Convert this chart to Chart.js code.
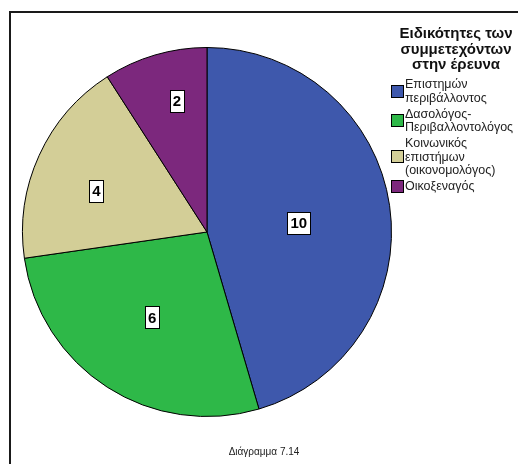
<!DOCTYPE html>
<html>
<head>
<meta charset="utf-8">
<script src="https://cdn.jsdelivr.net/npm/chart.js@4/dist/chart.umd.min.js"></script>
<style>
  html, body { margin: 0; padding: 0; background: #fff; }
  #wrap { width: 518px; height: 464px; position: relative; }
</style>
</head>
<body>
<div id="wrap"><canvas id="pieChart" width="518" height="464"></canvas></div>
<script>
// Ειδικότητες των συμμετεχόντων στην έρευνα
const categories = [
    ['Επιστημών', 'περιβάλλοντος'],
    ['Δασολόγος-', 'Περιβαλλοντολόγος'],
    ['Κοινωνικός', 'επιστήμων', '(οικονομολόγος)'],
    ['Οικοξεναγός']
];
const counts = [10, 6, 4, 2];
const sliceColors = ['#3e58ac', '#2eb848', '#d3ce97', '#7c287d'];
const legendTitle = ['Ειδικότητες των', 'συμμετεχόντων', 'στην έρευνα'];
const footerText = 'Διάγραμμα 7.14';

const FONT = "'Liberation Sans', Arial, sans-serif";

// frame lines (top and left edge of the chart box)
const framePlugin = {
    id: 'frame',
    beforeDraw(chart) {
        const c = chart.ctx;
        c.save();
        c.fillStyle = '#fff';
        c.fillRect(0, 0, chart.width, chart.height);
        c.strokeStyle = '#1a1a1a';
        c.lineWidth = 2;
        c.beginPath();
        c.moveTo(10, chart.height);
        c.lineTo(10, 12);
        c.lineTo(chart.width, 12);
        c.stroke();
        c.restore();
    }
};

// boxed count labels inside each slice
const sliceLabels = {
    id: 'sliceLabels',
    afterDatasetsDraw(chart, args, opts) {
        const c = chart.ctx;
        const meta = chart.getDatasetMeta(0);
        c.save();
        c.font = 'bold 15px ' + FONT;
        c.textAlign = 'center';
        c.textBaseline = 'middle';
        meta.data.forEach((arc, i) => {
            const p = arc.getProps(['x', 'y', 'startAngle', 'endAngle', 'outerRadius'], true);
            const mid = (p.startAngle + p.endAngle) / 2 + opts.shift[i];
            const r = p.outerRadius * opts.radii[i];
            const x = p.x + Math.cos(mid) * r;
            const y = p.y + Math.sin(mid) * r;
            const txt = String(chart.data.datasets[0].data[i]);
            const w = Math.round(c.measureText(txt).width + 6);
            const h = 22;
            const bx = Math.round(x - w / 2) + 0.5;
            const by = Math.round(y - h / 2) + 0.5;
            c.fillStyle = '#fff';
            c.fillRect(bx, by, w, h);
            c.strokeStyle = '#000';
            c.lineWidth = 1;
            c.strokeRect(bx, by, w, h);
            c.fillStyle = '#000';
            c.fillText(txt, x, y + 1);
        });
        c.restore();
    }
};

// legend block on the right and the caption underneath
const sideLegend = {
    id: 'sideLegend',
    afterDraw(chart) {
        const c = chart.ctx;
        const ds = chart.data.datasets[0];
        c.save();
        c.fillStyle = '#111';
        c.font = 'bold 15px ' + FONT;
        c.textAlign = 'center';
        c.textBaseline = 'alphabetic';
        legendTitle.forEach((t, i) => c.fillText(t, 456, 38 + i * 15.5));

        c.font = '12.5px ' + FONT;
        c.textAlign = 'left';
        const lineH = 13.5;
        let top = 78;
        chart.data.labels.forEach((lines, i) => {
            const blockH = lines.length * lineH;
            lines.forEach((t, j) => {
                c.fillStyle = '#222';
                c.fillText(t, 405, top + 10 + j * lineH);
            });
            const sy = Math.round(top + blockH / 2 - 7);
            c.fillStyle = ds.backgroundColor[i];
            c.fillRect(391.5, sy + 0.5, 12, 12);
            c.strokeStyle = '#000';
            c.lineWidth = 1;
            c.strokeRect(391.5, sy + 0.5, 12, 12);
            top += blockH + 2.5;
        });

        c.fillStyle = '#222';
        c.font = '10px ' + FONT;
        c.textAlign = 'center';
        c.fillText(footerText, 264, 455);
        c.restore();
    }
};

new Chart(document.getElementById('pieChart'), {
    type: 'pie',
    data: {
        labels: categories,
        datasets: [{
            data: counts,
            backgroundColor: sliceColors,
            borderColor: '#000',
            borderWidth: 1
        }]
    },
    options: {
        responsive: false,
        animation: false,
        layout: { padding: { left: 22, top: 47, right: 126, bottom: 47 } },
        plugins: {
            legend: { display: false },
            tooltip: { enabled: false },
            sliceLabels: {
                radii: [0.5, 0.55, 0.64, 0.73],
                shift: [0.04, 0, -0.07, 0.06]
            }
        }
    },
    plugins: [framePlugin, sliceLabels, sideLegend]
});
</script>
</body>
</html>
